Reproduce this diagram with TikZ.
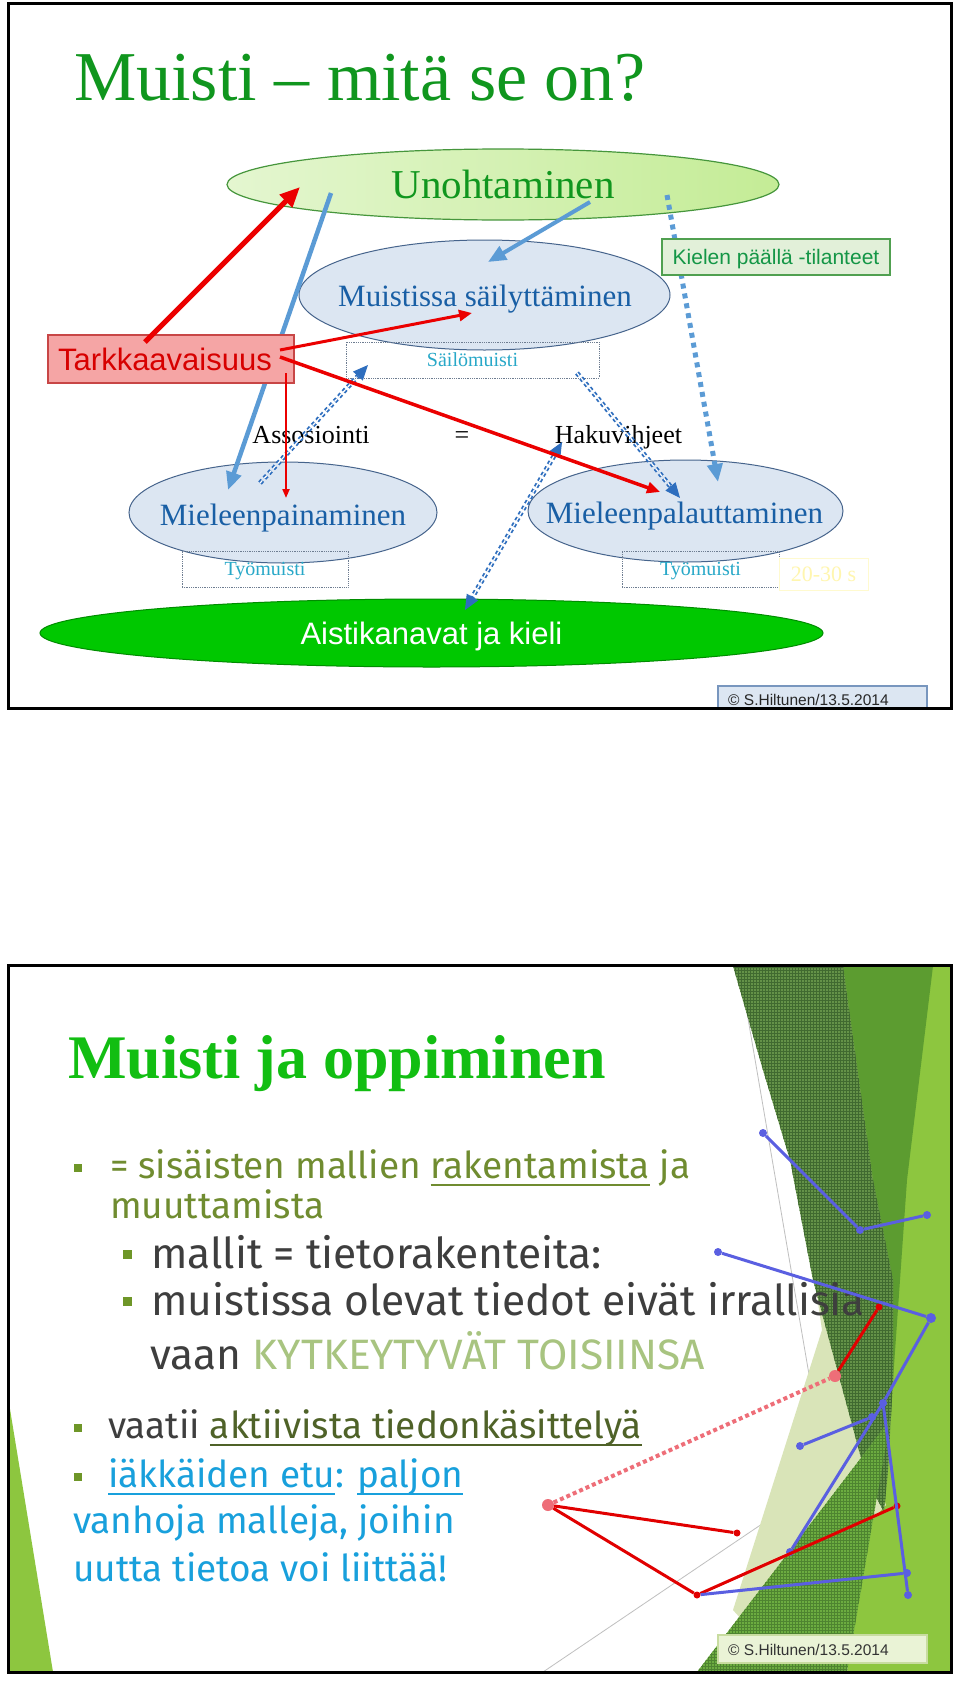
\documentclass[tikz,border=0pt]{standalone}
\usepackage{fontspec}
\setmainfont{Liberation Serif}
\newfontfamily\arialfont{Liberation Sans}
\newfontfamily\firafont{Fira Sans}
\usetikzlibrary{shapes.geometric, arrows.meta, calc, patterns}

\newcommand{\setfs}[1]{\fontsize{#1}{#1}\selectfont}
\newsavebox{\ulbox}
\newcommand{\ulx}[1]{\sbox{\ulbox}{#1}\rlap{\rule[-8pt]{\wd\ulbox}{2pt}}\usebox{\ulbox}}

% slide 1
\definecolor{titlegreen}{RGB}{16,150,30}
\definecolor{unohleft}{RGB}{228,246,208}
\definecolor{unohright}{RGB}{196,236,150}
\definecolor{unohline}{RGB}{70,150,60}
\definecolor{ellfill}{RGB}{220,230,242}
\definecolor{ellline}{RGB}{70,100,140}
\definecolor{memblue}{RGB}{25,95,165}
\definecolor{subcyan}{RGB}{40,168,200}
\definecolor{boxgray}{RGB}{110,125,145}
\definecolor{tarkfill}{RGB}{245,165,165}
\definecolor{tarkline}{RGB}{200,70,70}
\definecolor{tarktext}{RGB}{215,0,0}
\definecolor{kielfill}{RGB}{226,240,217}
\definecolor{kielline}{RGB}{80,160,80}
\definecolor{kieltext}{RGB}{20,150,70}
\definecolor{aistfill}{RGB}{0,200,0}
\definecolor{aistline}{RGB}{0,140,0}
\definecolor{paleyel}{RGB}{255,246,175}
\definecolor{arrred}{RGB}{235,0,0}
\definecolor{lineblue}{RGB}{91,155,213}
\definecolor{dkblue}{RGB}{46,110,190}
\definecolor{copyfill}{RGB}{220,230,242}
\definecolor{copyline}{RGB}{120,150,190}
% slide 2
\definecolor{title2green}{RGB}{18,190,18}
\definecolor{olivetxt}{RGB}{112,140,48}
\definecolor{dgray}{RGB}{62,62,62}
\definecolor{kytk}{RGB}{168,196,128}
\definecolor{dolive}{RGB}{79,98,40}
\definecolor{tblue}{RGB}{24,160,220}
\definecolor{bulgreen}{RGB}{110,150,40}
\definecolor{stripelight}{RGB}{141,198,63}
\definecolor{stripemid}{RGB}{92,156,48}
\definecolor{stripedark}{RGB}{100,146,72}
\definecolor{stripegrid}{RGB}{64,106,48}
\definecolor{stripepale}{RGB}{217,228,184}
\definecolor{stripetri}{RGB}{108,172,64}
\definecolor{trigrid}{RGB}{78,132,48}
\definecolor{netblue}{RGB}{90,95,225}
\definecolor{netred}{RGB}{225,0,0}
\definecolor{netpink}{RGB}{238,110,120}
\definecolor{copy2fill}{RGB}{234,243,214}
\definecolor{copy2line}{RGB}{200,220,160}

\begin{document}
\begin{tikzpicture}[x=1pt, y=-1pt,
  frame/.style={draw=black, line width=3pt},
  ell/.style={ellipse, inner sep=0pt, draw=ellline, line width=1pt, fill=ellfill},
  memtxt/.style={anchor=base, inner sep=0pt, text=memblue, font=\setfs{31}},
  dotbox/.style={rectangle, draw=boxgray, densely dotted, line width=0.8pt,
                 inner sep=0pt, text depth=0pt, text=subcyan, font=\setfs{20}},
  plain/.style={anchor=base, inner sep=0pt, font=\setfs{26}},
  redbig/.style={draw=arrred, line width=5pt, -{Triangle[length=20pt, width=17pt]}},
  redmid/.style={draw=arrred, line width=3pt, -{Triangle[length=13pt, width=11pt]}},
  redthin/.style={draw=arrred, line width=2pt, -{Triangle[length=9pt, width=7pt]}},
  bluesolid/.style={draw=lineblue, line width=4.5pt, -{Triangle[length=18pt, width=15pt]}},
  bluedots/.style={draw=lineblue, line width=5pt, dash pattern=on 5pt off 5pt,
                   -{Triangle[length=18pt, width=15pt]}},
  dbl/.style={draw=dkblue, line width=1.8pt, double=white, double distance=1.2pt,
              dash pattern=on 3.5pt off 3pt},
  dbltip/.style={draw=dkblue, line width=1pt, -{Triangle[length=15pt, width=13pt]}},
  lvlone/.style={anchor=base west, inner sep=0pt, font=\firafont\setfs{37}},
  lvltwo/.style={anchor=base west, inner sep=0pt, font=\firafont\setfs{42.5}},
  bulone/.style={rectangle, fill=bulgreen, inner sep=0pt, minimum size=7.5pt},
  bultwo/.style={rectangle, fill=bulgreen, inner sep=0pt, minimum size=9pt},
  ndot/.style={circle, fill=netblue, inner sep=0pt, minimum size=8pt},
  rdot/.style={circle, fill=netred, inner sep=0pt, minimum size=7pt},
  pdot/.style={circle, fill=netpink, inner sep=0pt, minimum size=12pt},
  netb/.style={draw=netblue, line width=3pt},
  netr/.style={draw=netred, line width=3pt},
  netp/.style={draw=netpink, line width=4pt, dash pattern=on 4pt off 3pt},
]
\useasboundingbox (0,0) rectangle (960,1681);
\fill[white] (0,0) rectangle (960,1681);

%%%%%%%% Slide 1: Muisti - mita se on?
\node[anchor=base west, inner sep=0pt, text=titlegreen, font=\setfs{70}]
  (title1) at (74,100) {Muisti – mitä se on?};

% ellipses
\node[ellipse, inner sep=0pt, draw=unohline, line width=1.2pt,
      left color=unohleft, right color=unohright,
      minimum width=552pt, minimum height=71pt, text depth=0pt,
      text=titlegreen, font=\setfs{41}] (unoh) at (503,184.5) {Unohtaminen};
\node[ell, minimum width=371pt, minimum height=110pt] (sail) at (484.5,295) {};
\node[ell, minimum width=308pt, minimum height=101pt] (paina) at (283,512.5) {};
\node[ell, minimum width=315pt, minimum height=102pt] (palau) at (685.5,511) {};
\node[ellipse, inner sep=0pt, draw=aistline, line width=1pt, fill=aistfill,
      minimum width=783pt, minimum height=68pt, text depth=0pt,
      text=white, font=\arialfont\setfs{31}] (aist) at (431.5,633) {Aistikanavat ja kieli};

\node[memtxt] (sailtxt)  at (485,306)   {Muistissa säilyttäminen};
\node[memtxt] (painatxt) at (283,525)   {Mieleenpainaminen};
\node[memtxt] (palautxt) at (684.5,523) {Mieleenpalauttaminen};

% dotted memory boxes
\node[dotbox, minimum width=253pt, minimum height=36pt] (sailo) at (472.5,360) {Säilömuisti};
\node[dotbox, minimum width=166pt, minimum height=36pt] (tyoA)  at (265,569)   {Työmuisti};
\node[dotbox, minimum width=157pt, minimum height=36pt] (tyoB)  at (700.5,569) {Työmuisti};
\node[rectangle, draw=paleyel!60, line width=1pt, inner sep=0pt, text depth=0pt,
      text=paleyel, font=\setfs{22}, minimum width=89pt, minimum height=32pt]
  (aika) at (823.5,574) {20-30 s};

% Assosiointi = Hakuvihjeet
\node[plain] (asso) at (311,443)   {Assosiointi};
\node[plain] (eq)   at (462,443)   {=};
\node[plain] (haku) at (618.5,443) {Hakuvihjeet};

% blue connectors (behind the red box)
\coordinate (unohA) at (331,193);
\coordinate (painA) at (228,490);
\coordinate (unohB) at (590,202);
\coordinate (sailA) at (488,262);
\coordinate (unohC) at (667,195);
\coordinate (palA)  at (718,482);
\draw[bluesolid] (unohA) -- (painA);
\draw[bluesolid, line width=4pt] (unohB) -- (sailA);
\draw[bluedots] (unohC) -- (palA);

% Kielen paalla box
\node[rectangle, draw=kielline, line width=2pt, fill=kielfill, inner sep=0pt,
      text depth=0pt, text=kieltext, font=\arialfont\setfs{21},
      minimum width=228pt, minimum height=36pt] (kiel) at (776,257) {Kielen päällä -tilanteet};

% dashed double connectors
\coordinate (painB) at (260,483);
\coordinate (sailB) at (368,365);
\coordinate (sailC) at (577,373);
\coordinate (palB)  at (680,498);
\coordinate (aistA) at (465,610);
\coordinate (hakuA) at (562,442);
\draw[dbl, shorten >=12pt] (painB) -- (sailB);
\draw[dbltip] ($(sailB)!16pt!(painB)$) -- (sailB);
\draw[dbl, shorten >=12pt] (sailC) -- (palB);
\draw[dbltip] ($(palB)!16pt!(sailC)$) -- (palB);
\draw[dbl, shorten >=12pt, shorten <=12pt] (aistA) -- (hakuA);
\draw[dbltip] ($(hakuA)!16pt!(aistA)$) -- (hakuA);
\draw[dbltip] ($(aistA)!16pt!(hakuA)$) -- (aistA);

% Tarkkaavaisuus
\node[rectangle, draw=tarkline, line width=1.2pt, fill=tarkfill, inner sep=0pt,
      minimum width=246pt, minimum height=48pt] (tark) at (171,359) {};
\node[anchor=base, inner sep=0pt, text=tarktext, font=\arialfont\setfs{31}]
  (tarktxt) at (165,370) {Tarkkaavaisuus};

% red connectors
\coordinate (tarkA) at (145,342);
\coordinate (unohD) at (300,187);
\coordinate (tarkB) at (280,350);
\coordinate (sailD) at (472,313);
\coordinate (tarkC) at (280,357);
\coordinate (palC)  at (660,492);
\coordinate (tarkD) at (286,373);
\coordinate (painC) at (286,498);
\draw[redbig]  (tarkA) -- (unohD);
\draw[redmid]  (tarkB) -- (sailD);
\draw[redmid, line width=3.5pt] (tarkC) -- (palC);
\draw[redthin] (tarkD) -- (painC);

% copyright
\node[rectangle, draw=copyline, line width=1.5pt, fill=copyfill, inner sep=0pt,
      minimum width=209pt, minimum height=23pt] (copyA) at (822.5,697.5) {};
\node[anchor=base west, inner sep=0pt, text=black!85, font=\arialfont\setfs{15.5}]
  (copyAtxt) at (728,705) {© S.Hiltunen/13.5.2014};

\draw[frame] (8,3) rectangle (951,708);

%%%%%%%% Slide 2: Muisti ja oppiminen
% decoration
\fill[stripelight] (9,1403) -- (9,1672) -- (53,1672) -- cycle;
\draw[black!25, line width=0.8pt] (739,966) -- (860,1672);
\draw[black!25, line width=0.8pt] (543,1672) -- (830,1478);
\fill[stripelight] (843,966) -- (951,966) -- (951,1672) -- (847,1672) -- (893,1380) -- cycle;
\fill[stripemid] (843,966) -- (933,966) -- (907,1180) -- (893,1380) -- (873,1180) -- cycle;
\fill[stripepale] (812,1262) -- (840,1380) -- (886,1505) -- (760,1640) -- (733,1610) -- (822,1330) -- cycle;
\fill[stripedark] (733,966) -- (843,966) -- (873,1180) -- (893,1280) -- (893,1380)
  -- (888,1470) -- (884,1512) -- (867,1480) -- (840,1380) -- (813,1280)
  -- (790,1160) -- (763,1070) -- cycle;
\fill[pattern=grid, pattern color=stripegrid] (733,966) -- (843,966) -- (873,1180)
  -- (893,1280) -- (893,1380) -- (888,1470) -- (884,1512) -- (867,1480)
  -- (840,1380) -- (813,1280) -- (790,1160) -- (763,1070) -- cycle;
\fill[stripetri] (697,1672) -- (890,1420) -- (847,1672) -- cycle;
\fill[pattern=grid, pattern color=trigrid] (697,1672) -- (890,1420) -- (847,1672) -- cycle;

\node[anchor=base west, inner sep=0pt, text=title2green, font=\bfseries\setfs{62}]
  (title2) at (68,1078) {Muisti ja oppiminen};

% bullets
\node[bulone] (pt1) at (78,1168) {};
\node[lvlone, text=olivetxt] (rak1) at (110,1178) {= sisäisten mallien \ulx{rakentamista} ja};
\node[lvlone, text=olivetxt] (rak2) at (110,1218) {muuttamista};
\node[bultwo] (pt2) at (127.5,1254) {};
\node[lvltwo, text=dgray] (mal) at (151,1268) {mallit = tietorakenteita:};
\node[bultwo] (pt3) at (127.5,1301) {};
\node[lvltwo, text=dgray] (irr1) at (151,1315) {muistissa olevat tiedot eivät irrallisia};
\node[lvltwo, text=dgray] (irr2) at (150,1369) {vaan \textcolor{kytk}{KYTKEYTYVÄT TOISIINSA}};
\node[bulone] (pt4) at (78,1428) {};
\node[lvlone, text=dgray] (vaat) at (108,1438) {vaatii \textcolor{dolive}{\ulx{aktiivista tiedonkäsittelyä}}};
\node[bulone] (pt5) at (78,1477) {};
\node[lvlone, text=tblue] (iak1) at (108,1487) {\ulx{iäkkäiden etu}: \ulx{paljon}};
\node[lvlone, text=tblue] (iak2) at (73,1533) {vanhoja malleja, joihin};
\node[lvlone, text=tblue] (iak3) at (73,1581) {uutta tietoa voi liittää!};

% network of models
\node[ndot] (n1) at (763,1133) {};
\node[ndot] (n2) at (860,1230) {};
\node[ndot] (n3) at (927,1215) {};
\node[ndot] (n4) at (718,1252) {};
\node[ndot, minimum size=10pt] (n5) at (931,1318) {};
\node[ndot] (n6) at (883,1403) {};
\node[ndot] (n7) at (872,1417) {};
\node[ndot] (n8) at (800,1446) {};
\node[ndot] (n9) at (790,1552) {};
\node[ndot] (n10) at (907,1573) {};
\node[ndot] (n11) at (908,1595) {};
\node[pdot] (m1) at (548,1505) {};
\node[rdot] (m2) at (737,1533) {};
\node[rdot] (m3) at (697,1595) {};
\node[rdot] (m4) at (897,1506) {};
\node[pdot] (m5) at (835,1376) {};
\node[rdot] (m6) at (879,1307) {};

\draw[netr] (m1) -- (m2);
\draw[netr] (m1) -- (m3);
\draw[netr] (m3) -- (m4);
\draw[netr] (m5) -- (m6);
\draw[netp] (m1) -- (m5);
\draw[netb] (n1) -- (n2);
\draw[netb] (n2) -- (n3);
\draw[netb] (n4) -- (n5);
\draw[netb] (n5) -- (n6);
\draw[netb] (n6.center) -- (n9);
\draw[netb] (n7) -- (n8);
\draw[netb] (n6.center) -- (n11);
\draw[netb] (m3) -- (n10);

% copyright
\node[rectangle, draw=copy2line, line width=1.5pt, fill=copy2fill, inner sep=0pt,
      minimum width=209pt, minimum height=28pt] (copyB) at (822.5,1649) {};
\node[anchor=base west, inner sep=0pt, text=black!80, font=\arialfont\setfs{15.5}]
  (copyBtxt) at (728,1655) {© S.Hiltunen/13.5.2014};

\draw[frame] (8,965) rectangle (951,1672);

\end{tikzpicture}
\end{document}
